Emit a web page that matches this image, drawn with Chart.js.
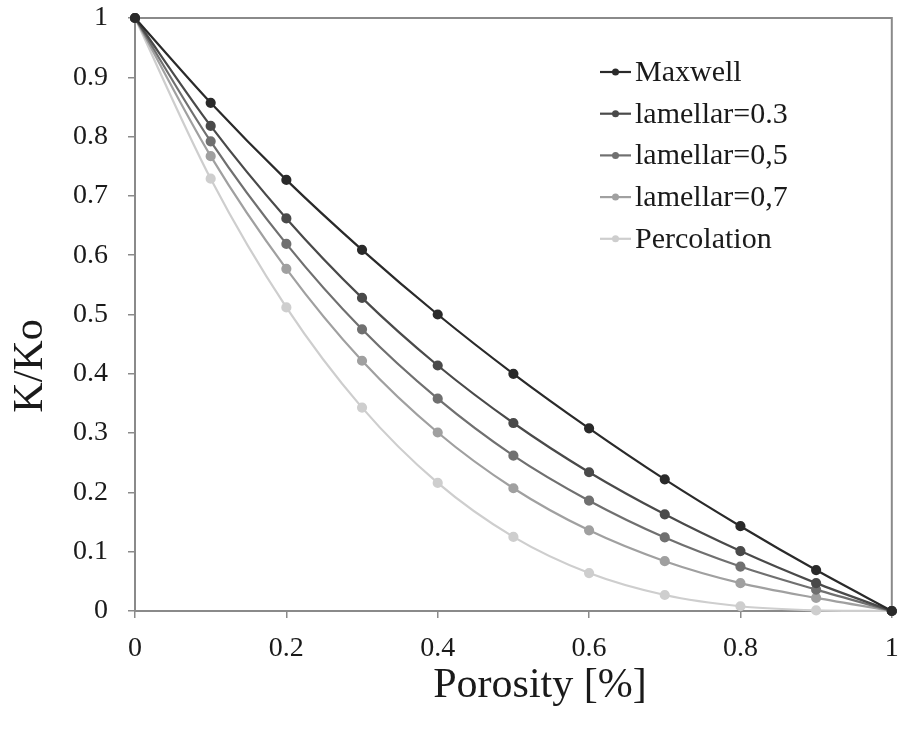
<!DOCTYPE html>
<html>
<head>
<meta charset="utf-8">
<script src="https://cdn.jsdelivr.net/npm/chart.js@4/dist/chart.umd.min.js"></script>
<style>
  html, body { margin: 0; padding: 0; background: #fff; }
  #wrap { width: 898px; height: 733px; }
</style>
</head>
<body>
<div id="wrap"><canvas id="chart"></canvas></div>
<script>
// porosity values (x) and K/Ko for each model
const porosity = [0, 0.1, 0.2, 0.3, 0.4, 0.5, 0.6, 0.7, 0.8, 0.9, 1];
const maxwell  = [1, 0.857, 0.727, 0.609, 0.500, 0.400, 0.308, 0.222, 0.143, 0.069, 0];
const lam03    = [1, 0.818, 0.662, 0.528, 0.414, 0.317, 0.234, 0.163, 0.101, 0.047, 0];
const lam05    = [1, 0.792, 0.619, 0.475, 0.358, 0.262, 0.186, 0.124, 0.075, 0.036, 0];
const lam07    = [1, 0.767, 0.577, 0.422, 0.301, 0.207, 0.136, 0.084, 0.047, 0.022, 0];
const perc     = [1, 0.729, 0.512, 0.343, 0.216, 0.125, 0.064, 0.027, 0.008, 0.001, 0];

const seriesNames = ['Maxwell', 'lamellar=0.3', 'lamellar=0,5', 'lamellar=0,7', 'Percolation'];
const seriesValues = [maxwell, lam03, lam05, lam07, perc];
const seriesColors = ['#2a2a2a', '#4a4a4a', '#707070', '#a0a0a0', '#cecece'];

const font = 'Liberation Serif';
const axisGrey = '#8a8a8a';

const datasets = seriesNames.map((name, i) => ({
  label: name,
  data: porosity.map((x, j) => ({ x: x, y: seriesValues[i][j] })),
  borderColor: seriesColors[i],
  backgroundColor: seriesColors[i],
  borderWidth: 2.2,
  pointRadius: 4,
  pointHoverRadius: 4,
  tension: 0.3,
  showLine: true,
  clip: 8
}));

const tickLabel = v => String(Math.round(v * 10) / 10);

// keep label overhang from shrinking the plot
function noOverhang(scale) {
  scale.paddingLeft = 0;
  scale.paddingRight = 0;
  scale.paddingTop = 0;
  scale.paddingBottom = 0;
}

// draws the box, the in-plot legend and the two axis titles
const decor = {
  id: 'decor',
  beforeDatasetsDraw(chart) {
    const { ctx, chartArea: a } = chart;
    ctx.save();
    ctx.strokeStyle = axisGrey;
    ctx.lineWidth = 2;
    ctx.strokeRect(a.left, a.top, a.right - a.left, a.bottom - a.top);
    ctx.restore();
  },
  afterDraw(chart) {
    const ctx = chart.ctx;
    ctx.save();
    // legend
    ctx.font = '30px "' + font + '"';
    ctx.textBaseline = 'middle';
    chart.data.datasets.forEach((ds, i) => {
      const y = 72 + i * 41.7;
      ctx.strokeStyle = ds.borderColor;
      ctx.lineWidth = 2.2;
      ctx.beginPath();
      ctx.moveTo(600, y);
      ctx.lineTo(631, y);
      ctx.stroke();
      ctx.fillStyle = ds.borderColor;
      ctx.beginPath();
      ctx.arc(615.5, y, 3.5, 0, Math.PI * 2);
      ctx.fill();
      ctx.fillStyle = '#1a1a1a';
      ctx.fillText(ds.label, 635, y + 1);
    });
    // axis titles
    ctx.font = '42px "' + font + '"';
    ctx.fillStyle = '#1a1a1a';
    ctx.textAlign = 'center';
    ctx.fillText('Porosity [%]', 540, 686);
    ctx.translate(31, 366);
    ctx.rotate(-Math.PI / 2);
    ctx.fillText('K/Ko', 0, 0);
    ctx.restore();
  }
};

new Chart(document.getElementById('chart'), {
  type: 'scatter',
  data: { datasets: datasets },
  plugins: [decor],
  options: {
    responsive: true,
    maintainAspectRatio: false,
    animation: false,
    layout: { padding: { top: 18, right: 3, left: 0, bottom: 0 } },
    plugins: {
      legend: { display: false },
      tooltip: { enabled: false }
    },
    scales: {
      x: {
        type: 'linear',
        min: 0,
        max: 1,
        afterFit(scale) { scale.height = 122; noOverhang(scale); },
        ticks: {
          stepSize: 0.2,
          color: '#1a1a1a',
          padding: 14,
          font: { family: font, size: 28 },
          callback: tickLabel
        },
        grid: {
          drawOnChartArea: false,
          drawTicks: true,
          tickLength: 7,
          color: axisGrey,
          lineWidth: 1.5
        },
        border: { color: axisGrey, width: 2 }
      },
      y: {
        type: 'linear',
        min: 0,
        max: 1,
        afterFit(scale) { scale.width = 135; noOverhang(scale); },
        ticks: {
          stepSize: 0.1,
          color: '#1a1a1a',
          padding: 20,
          font: { family: font, size: 28 },
          callback: tickLabel
        },
        grid: {
          drawOnChartArea: false,
          drawTicks: true,
          tickLength: 7,
          color: axisGrey,
          lineWidth: 1.5
        },
        border: { color: axisGrey, width: 2 }
      }
    }
  }
});
</script>
</body>
</html>
